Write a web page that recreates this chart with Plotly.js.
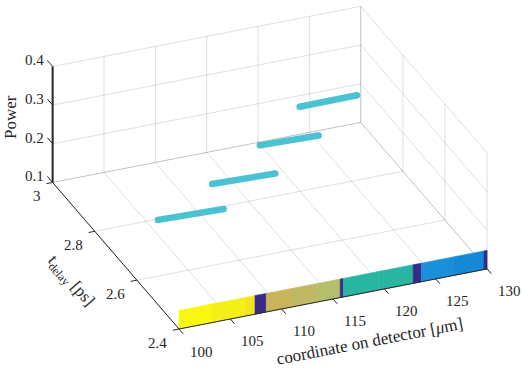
<!DOCTYPE html>
<html>
<head>
<meta charset="utf-8">
<script src="https://cdn.plot.ly/plotly-3.0.1.min.js"></script>
<style>
  html, body { margin: 0; padding: 0; background: #fff; }
  #graph-container { width: 524px; height: 374px; }
</style>
</head>
<body>
<div id="graph-container"></div>
<script>
// cyan segments: one per delay, start/end on the detector
var segDelay = [2.5, 2.65, 2.8, 2.95];
var segXStart = [100.0, 108.35, 116.07, 123.03];
var segXEnd = [106.4, 114.5, 121.8, 128.6];
var segPowerStart = [0.319, 0.274, 0.239, 0.208];
var segPowerEnd = [0.314, 0.269, 0.235, 0.209];

// coloured strip along the front of the detector (cells)
var stripEdges = [100, 103.3, 106.5, 107.4, 108.5, 111, 113.5, 115.7, 116.0, 119.4, 122.8, 123.6, 126.7, 129.7, 130];
var stripVal = [1.0, 0.985, 0.97, 0, 0.86, 0.8, 0.74, 0, 0.52, 0.5, 0, 0.31, 0.28, 0];
var stripDelay = 2.4;
var stripPower = [0.1, 0.148];

// axes
var xRange = [100, 130];
var yRange = [2.4, 3];
var zRange = [0.1, 0.4];
var xTicks = [100, 105, 110, 115, 120, 125, 130];
var yTicks = [2.4, 2.6, 2.8, 3];
var yTickText = ['2.4', '2.6', '2.8', '3'];
var zTicks = [0.1, 0.2, 0.3, 0.4];

// view (MATLAB-like orthographic camera)
var az = 247.7 * Math.PI / 180;
var el = 28.4 * Math.PI / 180;
var boxAspect = [1, 1, 0.396];
var boxScale = 333;

var colorStops = [
    [0, '#372B8A'], [0.28, '#1588D6'], [0.31, '#1B90DA'], [0.5, '#29B5A1'], [0.52, '#27B7A0'],
    [0.74, '#B5BE6D'], [0.8, '#C0B964'], [0.86, '#C9B45C'], [0.97, '#F0E41E'], [0.985, '#F4EF16'], [1, '#F8F70F']
];

function colorOf(v) {
    var best = colorStops[0];
    colorStops.forEach(function (s) { if (Math.abs(s[0] - v) < Math.abs(best[0] - v)) best = s; });
    return best[1];
}

// project a data point to the 2D plane
function proj(x, y, z) {
    var u = (x - xRange[0]) / (xRange[1] - xRange[0]) * boxAspect[0];
    var v = (y - yRange[0]) / (yRange[1] - yRange[0]) * boxAspect[1];
    var w = (z - zRange[0]) / (zRange[1] - zRange[0]) * boxAspect[2];
    var sx = boxScale * (-Math.sin(az) * u + Math.cos(az) * v);
    var sy = boxScale * (-Math.sin(el) * Math.cos(az) * u - Math.sin(el) * Math.sin(az) * v + Math.cos(el) * w);
    return [sx, sy];
}

function addLine(tr, p, q) {
    var a = proj(p[0], p[1], p[2]), b = proj(q[0], q[1], q[2]);
    tr.x.push(a[0], b[0], null);
    tr.y.push(a[1], b[1], null);
}

function plotChart() {
    var data = [];
    var font = '"Liberation Serif", serif';

    // grid on the three back planes
    var grid = { x: [], y: [], type: 'scatter', mode: 'lines', line: { color: 'rgba(0,0,0,0.13)', width: 1 }, hoverinfo: 'skip' };
    xTicks.forEach(function (t) {
        addLine(grid, [t, yRange[0], zRange[0]], [t, yRange[1], zRange[0]]);   // floor
        addLine(grid, [t, yRange[1], zRange[0]], [t, yRange[1], zRange[1]]);   // back wall
    });
    yTicks.forEach(function (t) {
        addLine(grid, [xRange[0], t, zRange[0]], [xRange[1], t, zRange[0]]);   // floor
        addLine(grid, [xRange[1], t, zRange[0]], [xRange[1], t, zRange[1]]);   // right wall
    });
    zTicks.forEach(function (t) {
        addLine(grid, [xRange[0], yRange[1], t], [xRange[1], yRange[1], t]);   // back wall
        addLine(grid, [xRange[1], yRange[0], t], [xRange[1], yRange[1], t]);   // right wall
    });
    data.push(grid);

    // strip cells
    for (var i = 0; i < stripVal.length; i++) {
        var x0 = stripEdges[i], x1 = stripEdges[i + 1];
        var pts = [[x0, stripPower[0]], [x1, stripPower[0]], [x1, stripPower[1]], [x0, stripPower[1]], [x0, stripPower[0]]];
        var px = [], py = [];
        pts.forEach(function (p) { var s = proj(p[0], stripDelay, p[1]); px.push(s[0]); py.push(s[1]); });
        var c = colorOf(stripVal[i]);
        data.push({ x: px, y: py, type: 'scatter', mode: 'lines', fill: 'toself', fillcolor: c,
                    line: { color: c, width: 0.6 }, hoverinfo: 'skip' });
    }

    // axis lines and ticks
    var axes = { x: [], y: [], type: 'scatter', mode: 'lines', line: { color: '#262626', width: 1 }, hoverinfo: 'skip' };
    addLine(axes, [xRange[0], yRange[0], zRange[0]], [xRange[1], yRange[0], zRange[0]]);
    addLine(axes, [xRange[0], yRange[0], zRange[0]], [xRange[0], yRange[1], zRange[0]]);
    xTicks.forEach(function (t) { addLine(axes, [t, yRange[0], zRange[0]], [t, yRange[0] - 0.02, zRange[0]]); });
    yTicks.forEach(function (t) { addLine(axes, [xRange[0], t, zRange[0]], [xRange[0] - 0.6, t, zRange[0]]); });
    zTicks.forEach(function (t) { addLine(axes, [xRange[0], yRange[1], t], [xRange[0], yRange[1] + 0.025, t]); });
    data.push(axes);

    var zAxis = { x: [], y: [], type: 'scatter', mode: 'lines', line: { color: '#262626', width: 2 }, hoverinfo: 'skip' };
    addLine(zAxis, [xRange[0], yRange[1], zRange[0]], [xRange[0], yRange[1], zRange[1]]);
    data.push(zAxis);

    // cyan segments
    for (var k = 0; k < segDelay.length; k++) {
        var a = proj(segXStart[k], segDelay[k], segPowerStart[k]);
        var b = proj(segXEnd[k], segDelay[k], segPowerEnd[k]);
        data.push({
            x: [a[0], b[0]], y: [a[1], b[1]], type: 'scatter', mode: 'lines+markers',
            line: { color: '#4AC2D2', width: 6.5 },
            marker: { color: '#4AC2D2', size: 6.5, line: { width: 0 } },
            hoverinfo: 'skip'
        });
    }

    // tick labels
    var tickFont = { family: font, size: 15, color: '#262626' };
    var ann = [];
    xTicks.forEach(function (t) {
        var p = proj(t, yRange[0], zRange[0]);
        ann.push({ x: p[0], y: p[1], text: String(t), showarrow: false, xanchor: 'center', yanchor: 'middle',
                   xshift: 22, yshift: -22.5, font: tickFont });
    });
    yTicks.forEach(function (t, i) {
        var p = proj(xRange[0], t, zRange[0]);
        ann.push({ x: p[0], y: p[1], text: yTickText[i], showarrow: false, xanchor: 'right', yanchor: 'middle',
                   xshift: -10, yshift: -14, font: tickFont });
    });
    zTicks.forEach(function (t) {
        var p = proj(xRange[0], yRange[1], t);
        ann.push({ x: p[0], y: p[1], text: String(t), showarrow: false, xanchor: 'right', yanchor: 'middle',
                   xshift: -7, yshift: 6, font: tickFont });
    });

    // axis titles
    var titleFont = { family: font, size: 17, color: '#262626' };
    ann.push({ text: 'Power', xref: 'paper', yref: 'paper', x: 11 / 524, y: 1 - 117 / 374,
               xanchor: 'center', yanchor: 'middle', showarrow: false, textangle: -90, font: titleFont });
    ann.push({ text: 't<sub>delay</sub> [ps]', xref: 'paper', yref: 'paper', x: 70 / 524, y: 1 - 281 / 374,
               xanchor: 'center', yanchor: 'middle', showarrow: false, textangle: 49, font: titleFont });
    ann.push({ text: 'coordinate on detector [<i>μ</i>m]', xref: 'paper', yref: 'paper', x: 369 / 524, y: 1 - 341 / 374,
               xanchor: 'center', yanchor: 'middle', showarrow: false, textangle: -11, font: titleFont });

    var layout = {
        width: 524,
        height: 374,
        margin: { l: 0, r: 0, t: 0, b: 0 },
        paper_bgcolor: '#fff',
        plot_bgcolor: '#fff',
        showlegend: false,
        xaxis: { range: [-179, 345], visible: false, fixedrange: true },
        yaxis: { range: [-45, 329], visible: false, fixedrange: true },
        annotations: ann
    };

    Plotly.newPlot('graph-container', data, layout, { displayModeBar: false, staticPlot: true });
}

plotChart();
</script>
</body>
</html>
